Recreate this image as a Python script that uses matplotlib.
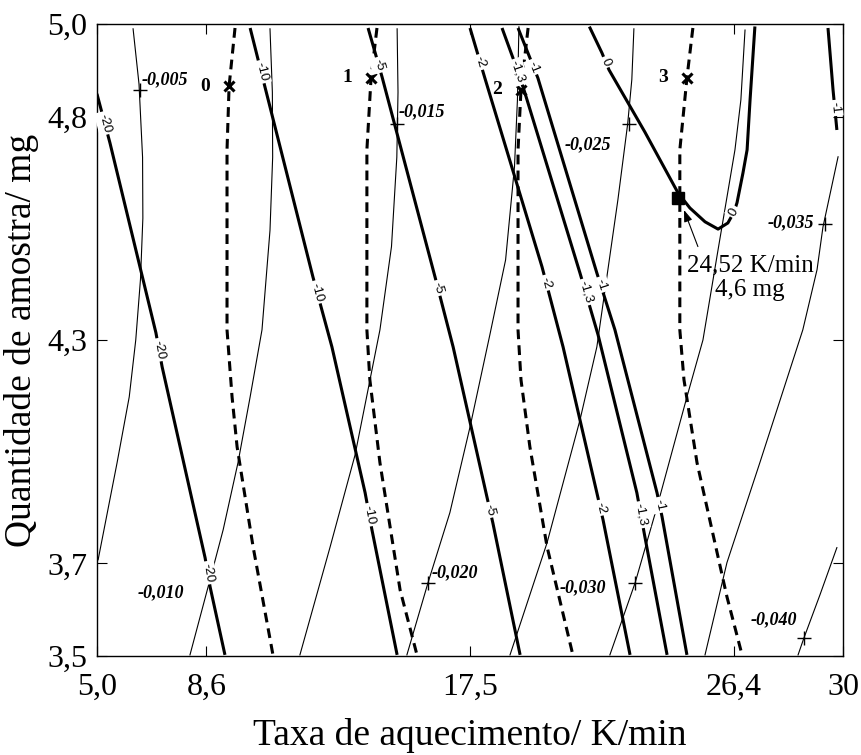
import numpy as np
import matplotlib.pyplot as plt

plt.rcParams['font.family'] = 'Liberation Serif'

# coded design: levels -sqrt(2), -1, 0, 1, sqrt(2)
alpha = np.sqrt(2)
rate_center, rate_step = 17.5, 8.9      # K/min
mass_center, mass_step = 4.25, 0.55     # mg
x_tick_labels = ['5,0', '8,6', '17,5', '26,4', '30']
y_tick_labels = ['3,5', '3,7', '4,3', '4,8', '5,0']

# first response: thick contours (x = K/min, y = mg)
c20_x = [4.91, 5.35, 6.90, 7.11, 8.56, 8.73, 9.23]
c20_y = [4.856, 4.735, 4.268, 4.184, 3.714, 3.642, 3.475]
c10_x = [10.08, 10.58, 12.20, 12.84, 13.96, 14.19, 15.04]
c10_y = [5.018, 4.873, 4.405, 4.233, 3.874, 3.783, 3.475]
c5_x = [14.06, 14.53, 16.32, 16.93, 18.07, 18.27, 19.19]
c5_y = [5.018, 4.898, 4.405, 4.233, 3.864, 3.800, 3.475]
c2_x = [17.50, 18.00, 19.93, 20.64, 21.78, 21.99, 22.90]
c2_y = [5.018, 4.895, 4.430, 4.233, 3.874, 3.807, 3.475]
c13_x = [18.58, 18.95, 19.32, 21.21, 21.82, 23.13, 23.40, 24.15]
c13_y = [5.018, 4.944, 4.866, 4.415, 4.263, 3.874, 3.766, 3.475]
c1_x = [19.12, 19.79, 21.78, 22.39, 23.81, 23.98, 24.82]
c1_y = [5.018, 4.895, 4.415, 4.275, 3.874, 3.815, 3.475]
c0_x = [21.55, 21.95, 22.19, 23.40, 24.52, 24.92, 25.43, 25.87, 26.20,
        26.41, 26.51, 26.71, 26.85, 26.95, 27.11]
c0_y = [5.018, 4.957, 4.915, 4.762, 4.612, 4.575, 4.541, 4.523, 4.538,
        4.565, 4.588, 4.661, 4.718, 4.841, 5.018]
c1r_x = [29.58, 29.75, 29.88]
c1r_y = [5.018, 4.866, 4.767]

# second response: thin contours
t005_x = [6.13, 6.33, 6.45, 6.46, 6.38, 6.22, 6.00, 5.59, 4.95]
t005_y = [5.016, 4.880, 4.700, 4.550, 4.400, 4.250, 4.110, 3.948, 3.709]
t010_x = [10.75, 10.83, 10.84, 10.75, 10.48, 10.08, 9.67, 9.17, 8.66, 8.05]
t010_y = [5.016, 4.860, 4.700, 4.520, 4.275, 4.110, 3.948, 3.783, 3.642,
          3.475]
t015_x = [15.04, 15.07, 15.03, 14.85, 14.46, 13.62, 12.78, 11.76]
t015_y = [5.016, 4.860, 4.700, 4.480, 4.275, 3.967, 3.741, 3.475]
t020_x = [19.15, 19.10, 19.00, 18.70, 18.17, 17.50, 16.82, 16.08, 15.37]
t020_y = [5.021, 4.841, 4.676, 4.447, 4.263, 4.036, 3.825, 3.652, 3.475]
t025_x = [23.03, 22.96, 22.82, 22.49, 21.78, 21.21, 20.10, 18.85]
t025_y = [5.016, 4.891, 4.782, 4.595, 4.233, 4.053, 3.751, 3.475]
t030_x = [26.78, 26.64, 26.44, 25.87, 25.36, 24.82, 23.81, 23.07, 22.22]
t030_y = [5.013, 4.841, 4.718, 4.472, 4.250, 4.110, 3.839, 3.652, 3.475]
t035_x = [29.92, 29.41, 29.21, 28.73, 27.28, 26.17, 25.43]
t035_y = [4.701, 4.528, 4.423, 4.275, 3.948, 3.702, 3.475]
t040_x = [29.88, 29.31, 28.77, 28.57]
t040_y = [3.739, 3.623, 3.517, 3.475]

# steepest-ascent paths (dashed) and their start points
d0_x = [9.57, 9.37, 9.30, 9.30, 9.47, 9.64, 10.18, 10.85]
d0_y = [5.018, 4.875, 4.718, 4.275, 4.110, 3.987, 3.741, 3.475]
d1_x = [14.36, 14.16, 14.02, 14.02, 14.12, 14.46, 15.14, 15.71]
d1_y = [5.018, 4.895, 4.718, 4.275, 4.152, 3.948, 3.635, 3.475]
d2_x = [19.46, 19.22, 19.12, 19.12, 19.22, 19.52, 20.10, 20.97]
d2_y = [5.018, 4.866, 4.718, 4.275, 4.152, 3.987, 3.741, 3.475]
d3_x = [25.02, 24.82, 24.58, 24.58, 24.72, 25.16, 26.17, 26.68]
d3_y = [5.018, 4.895, 4.718, 4.275, 4.152, 3.948, 3.618, 3.475]
step_x = [9.37, 14.16, 19.22, 24.82]
step_y = [4.875, 4.895, 4.866, 4.895]
step_labels = ['0', '1', '2', '3']

# thin contour labels: "+" mark and text position
plus_x = [6.37, 15.04, 16.08, 22.86, 23.07, 29.48, 28.77]
plus_y = [4.866, 4.782, 3.652, 4.782, 3.652, 4.536, 3.517]
lab2_x = [7.21, 7.07, 15.88, 16.99, 21.48, 21.31, 28.33, 27.76]
lab2_y = [4.890, 3.628, 4.811, 3.677, 4.730, 3.640, 4.538, 3.561]
lab2_text = ['-0,005', '-0,010', '-0,015', '-0,020', '-0,025', '-0,030',
             '-0,035', '-0,040']

opt_rate, opt_mass = 24.52, 4.6

fig = plt.figure(figsize=(8.61, 7.55), dpi=100)
ax = fig.add_axes([0.1127, 0.1311, 0.8664, 0.8371])

xt = rate_center + rate_step * np.array([-alpha, -1, 0, 1, alpha])
yt = mass_center + mass_step * np.array([-alpha, -1, 0, 1, alpha])
ax.set_xlim(xt[0], xt[-1])
ax.set_ylim(yt[0], yt[-1])


def inline_label(xs, ys, y0, text, x_hint=None):
    xs, ys = np.asarray(xs), np.asarray(ys)
    best = None
    for i in range(len(xs) - 1):
        y1, y2 = ys[i], ys[i + 1]
        if y1 != y2 and min(y1, y2) <= y0 <= max(y1, y2):
            x0 = xs[i] + (y0 - y1) / (y2 - y1) * (xs[i + 1] - xs[i])
            if best is None or (x_hint is not None and
                                abs(x0 - x_hint) < abs(best[0] - x_hint)):
                best = (x0, i)
    x0, i = best
    ang = np.degrees(np.arctan2(ys[i + 1] - ys[i], xs[i + 1] - xs[i]))
    if ang > 90:
        ang -= 180
    if ang < -90:
        ang += 180
    ax.text(x0, y0, text, rotation=ang, transform_rotates_text=True,
            rotation_mode='anchor', ha='center', va='center', fontsize=9.5,
            family='Liberation Sans', zorder=6,
            bbox=dict(fc='white', ec='none', pad=1.5))


thick = [(c20_x, c20_y, '-20', [4.784, 4.226, 3.677]),
         (c10_x, c10_y, '-10', [4.910, 4.368, 3.820]),
         (c5_x, c5_y, '-5', [4.927, 4.378, 3.832]),
         (c2_x, c2_y, '-2', [4.934, 4.391, 3.837]),
         (c13_x, c13_y, '-1,3', [4.910, 4.368, 3.820]),
         (c1_x, c1_y, '-1', [4.922, 4.386, 3.844]),
         (c1r_x, c1r_y, '-1', [4.821])]
for xs, ys, txt, where in thick:
    ax.plot(xs, ys, color='k', lw=2.2, solid_capstyle='butt', zorder=3)
    for y0 in where:
        inline_label(xs, ys, y0, txt)

ax.plot(c0_x, c0_y, color='k', lw=2.2, zorder=3)
inline_label(c0_x, c0_y, 4.934, '0', x_hint=22.0)
inline_label(c0_x, c0_y, 4.565, '0', x_hint=26.4)

for xs, ys in [(t005_x, t005_y), (t010_x, t010_y), (t015_x, t015_y),
               (t020_x, t020_y), (t025_x, t025_y), (t030_x, t030_y),
               (t035_x, t035_y), (t040_x, t040_y)]:
    ax.plot(xs, ys, color='k', lw=0.8, zorder=2)
ax.plot(plus_x, plus_y, '+', color='k', ms=10, mew=1.0, zorder=4)
for x, y, s in zip(lab2_x, lab2_y, lab2_text):
    ax.text(x, y, s, ha='center', va='center', fontsize=13,
            fontweight='bold', fontstyle='italic', zorder=7)

for xs, ys in [(d0_x, d0_y), (d1_x, d1_y), (d2_x, d2_y), (d3_x, d3_y)]:
    ax.plot(xs, ys, color='k', lw=2.2, ls=(0, (3.2, 2.0)), zorder=3)
ax.plot(step_x, step_y, 'x', color='k', ms=7, mew=2.2, zorder=5)
for x, y, s in zip(step_x, step_y, step_labels):
    ax.annotate(s, (x, y), xytext=(-17, 0), textcoords='offset points',
                ha='center', va='center', fontsize=14, fontweight='bold')

# optimum
ax.plot(opt_rate, opt_mass, 's', color='k', ms=8, zorder=5)
ax.annotate('', xy=(opt_rate + 0.2, opt_mass - 0.03),
            xytext=(opt_rate + 0.67, opt_mass - 0.12),
            arrowprops=dict(arrowstyle='-|>,head_length=0.7,head_width=0.25',
                            color='k', lw=0.8, shrinkA=0, shrinkB=0))
ax.text(26.95, 4.403, '24,52 K/min\n4,6 mg', ha='center', va='center',
        fontsize=18, linespacing=1.15, multialignment='center', zorder=7)

ax.set_xticks(xt)
ax.set_xticklabels(x_tick_labels)
ax.set_yticks(yt)
ax.set_yticklabels(y_tick_labels)
ax.tick_params(direction='in', top=True, right=True, length=7, width=0.8,
               labelsize=23, colors='k')
ax.tick_params(axis='x', pad=12)
ax.tick_params(axis='y', pad=7)
for sp in ax.spines.values():
    sp.set_linewidth(1.0)

ax.set_xlabel('Taxa de aquecimento/ K/min', fontsize=27, labelpad=12)
ax.set_ylabel('Quantidade de amostra/ mg', fontsize=27, labelpad=6)

fig.savefig('out.png', dpi=100)
